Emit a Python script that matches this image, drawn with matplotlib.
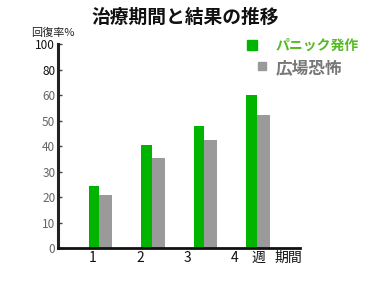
import matplotlib
matplotlib.use("Agg")
import matplotlib.pyplot as plt
import numpy as np

plt.rcParams['font.family'] = ['Noto Sans CJK JP', 'DejaVu Sans']

# data (in axis units, 10 per tick step)
weeks = [1, 2, 3, 4]
week_labels = ['1', '2', '3', '4']
panic = [24.5, 40.5, 48, 60]
agora = [21, 35.5, 42.5, 52]
ytick_labels = ['0', '10', '20', '30', '40', '50', '60', '80', '100']

fig = plt.figure(figsize=(3.7, 3.0), dpi=100)
ax = fig.add_axes([0.157, 0.173, 0.654, 0.68])

x = np.array(weeks, dtype=float)
ax.bar(x, panic, width=-0.2, align='edge', color='#00b400')
ax.bar(x, agora, width=0.24, align='edge', color='#9a9a9a')

ax.set_xlim(0.213, 4.82)
ax.set_ylim(0, 80)

for s in ['top', 'right']:
    ax.spines[s].set_visible(False)
ax.spines['left'].set_linewidth(2.2)
ax.spines['left'].set_color('#222222')
ax.spines['bottom'].set_linewidth(2)
ax.spines['bottom'].set_color('#111111')

ax.set_yticks(np.arange(0, 81, 10))
ax.set_yticklabels(ytick_labels, fontsize=8.5, color='#666666')
for lbl in ax.get_yticklabels()[-2:]:
    lbl.set_color('#111111')
ax.tick_params(axis='y', direction='in', length=3, width=1, pad=2, color='#444444')

xtick_pos = x - np.array([0.12, 0.22, 0.33, 0.42])
ax.set_xticks(xtick_pos)
ax.set_xticklabels(week_labels, fontsize=10, color='#111111')
ax.tick_params(axis='x', length=0, pad=2)

fig.text(0.5, 0.943, '治療期間と結果の推移', ha='center', va='center',
         fontsize=13.5, fontweight='bold', color='#111111')
fig.text(0.083, 0.89, '回復率%', ha='left', va='center', fontsize=8, color='#222222')
fig.text(0.68, 0.14, '週', ha='left', va='center', fontsize=10, color='#111111')
fig.text(0.743, 0.14, '期間', ha='left', va='center', fontsize=10, color='#111111')

# legend drawn by hand
fig.patches.append(plt.Rectangle((0.668, 0.835), 0.026, 0.03, transform=fig.transFigure,
                                 color='#00b400'))
fig.text(0.745, 0.848, 'パニック発作', ha='left', va='center', fontsize=10,
         fontweight='bold', color='#55bb22')
fig.patches.append(plt.Rectangle((0.697, 0.767), 0.022, 0.028, transform=fig.transFigure,
                                 color='#9a9a9a'))
fig.text(0.745, 0.77, '広場恐怖', ha='left', va='center', fontsize=12,
         fontweight='bold', color='#777777')

fig.savefig('out.png', dpi=100)
